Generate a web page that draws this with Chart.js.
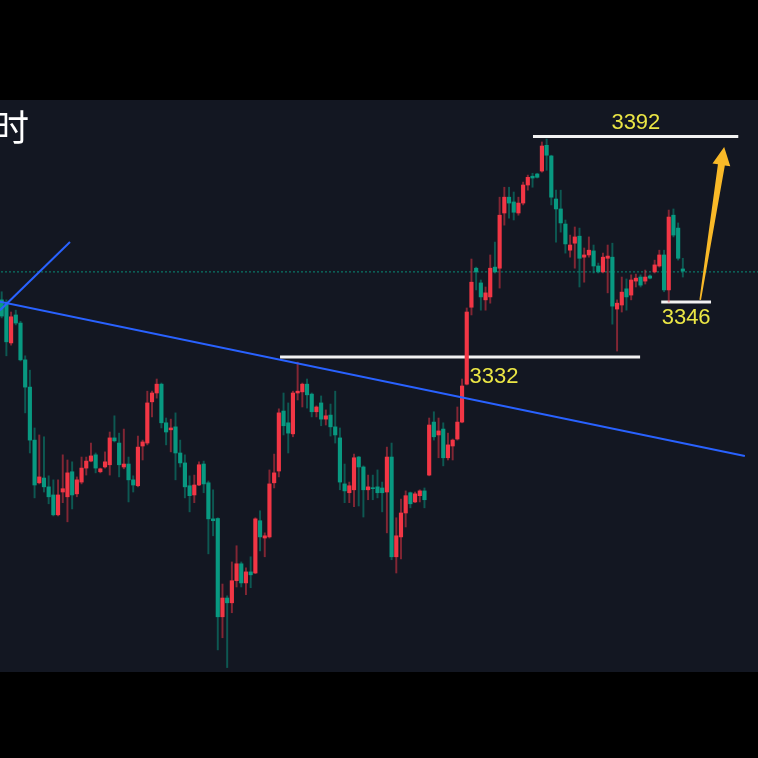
<!DOCTYPE html>
<html lang="zh">
<head>
    <meta charset="UTF-8">
    <title>K线图</title>
    <style>
        html, body {
            margin: 0;
            padding: 0;
            background: #000;
            width: 758px;
            height: 758px;
            overflow: hidden;
        }
        #chart-container {
            position: absolute;
            left: 0;
            top: 100px;
            width: 758px;
            height: 572px;
            background: #131722;
        }
    </style>
</head>
<body>
    <div id="chart-container">
        <canvas id="klineChart"></canvas>
    </div>
    <script src="https://cdn.jsdelivr.net/npm/chart.js"></script>
    <script>
        // K线数据 (开 / 高 / 低 / 收)
        const opens = [
            3347.5, 3346.4, 3335.8, 3343.4, 3341.2, 3331.2, 3323.8, 3309.4, 3297.8, 3299.1,
            3296.7, 3294.5, 3289.1, 3295.3, 3294.0, 3300.8, 3294.8, 3298.0, 3301.8, 3303.7,
            3305.4, 3300.8, 3302.1, 3302.7, 3310.0, 3308.6, 3302.1, 3302.9, 3298.6, 3297.0,
            3307.8, 3308.6, 3319.8, 3322.2, 3324.6, 3314.1, 3312.2, 3313.0, 3305.9, 3303.2,
            3297.0, 3294.5, 3297.2, 3302.9, 3297.8, 3288.0, 3288.1, 3261.4, 3266.5, 3265.2,
            3271.2, 3275.8, 3270.6, 3273.6, 3273.3, 3287.5, 3282.8, 3283.1, 3297.8, 3301.0,
            3317.3, 3314.1, 3311.1, 3322.2, 3322.5, 3324.6, 3321.9, 3317.1, 3319.5, 3315.1,
            3316.2, 3313.0, 3310.0, 3297.5, 3295.1, 3295.9, 3304.8, 3302.1, 3295.9, 3296.4,
            3296.7, 3296.4, 3295.3, 3304.8, 3277.7, 3283.1, 3289.6, 3295.1, 3292.6, 3294.3,
            3295.6, 3299.9, 3314.3, 3310.8, 3312.4, 3304.6, 3307.8, 3309.7, 3314.3, 3324.6,
            3345.5, 3356.1, 3352.1, 3347.5, 3348.3, 3356.4, 3356.1, 3371.1, 3375.4, 3374.1,
            3371.1, 3373.8, 3378.7, 3381.1, 3381.7, 3382.5, 3389.5, 3386.6, 3374.9, 3372.2,
            3368.1, 3361.0, 3362.9, 3364.8, 3359.1, 3359.7, 3360.8, 3356.7, 3355.1, 3358.8,
            3359.1, 3345.0, 3346.1, 3350.5, 3348.8, 3352.6, 3353.7, 3352.6, 3354.0, 3355.1,
            3356.7, 3359.7, 3350.2, 3370.5, 3367.0, 3355.9
        ];
        const highs = [
            3349.7, 3347.5, 3344.2, 3344.7, 3341.7, 3332.3, 3328.4, 3312.7, 3310.8, 3310.3,
            3299.7, 3298.6, 3298.6, 3305.4, 3304.0, 3303.5, 3299.4, 3304.8, 3304.8, 3308.6,
            3305.9, 3301.8, 3306.2, 3311.6, 3316.0, 3311.3, 3312.4, 3304.8, 3299.7, 3310.5,
            3309.4, 3322.7, 3322.7, 3326.0, 3324.9, 3315.4, 3315.1, 3316.8, 3309.4, 3305.4,
            3299.7, 3299.9, 3303.5, 3303.7, 3298.3, 3295.9, 3288.3, 3270.3, 3267.1, 3276.3,
            3280.7, 3276.3, 3274.7, 3277.7, 3288.3, 3290.2, 3284.2, 3301.3, 3305.6, 3317.9,
            3322.2, 3319.5, 3322.7, 3330.6, 3324.9, 3326.0, 3322.2, 3318.7, 3321.4, 3317.6,
            3319.2, 3322.7, 3312.7, 3302.9, 3298.0, 3305.6, 3305.0, 3302.4, 3299.9, 3299.9,
            3301.3, 3298.0, 3307.5, 3308.6, 3288.3, 3293.4, 3295.6, 3295.3, 3295.3, 3295.9,
            3296.4, 3315.4, 3317.1, 3315.4, 3314.1, 3311.3, 3309.7, 3318.4, 3326.0, 3345.3,
            3358.6, 3356.4, 3352.9, 3351.0, 3359.7, 3363.2, 3375.4, 3378.1, 3378.1, 3376.8,
            3375.4, 3379.5, 3381.4, 3381.9, 3381.9, 3390.4, 3391.2, 3386.8, 3377.3, 3377.3,
            3369.2, 3365.1, 3367.3, 3367.0, 3361.6, 3364.6, 3362.4, 3357.5, 3360.2, 3362.4,
            3362.9, 3347.5, 3353.7, 3353.2, 3354.3, 3354.5, 3354.3, 3355.6, 3354.3, 3358.3,
            3361.0, 3361.0, 3371.9, 3372.2, 3368.4, 3358.8
        ];
        const lows = [
            3342.6, 3332.3, 3335.2, 3340.7, 3330.9, 3316.8, 3305.9, 3293.7, 3297.5, 3295.3,
            3292.1, 3288.8, 3288.8, 3292.4, 3287.2, 3290.7, 3294.0, 3297.5, 3299.9, 3303.5,
            3300.5, 3300.5, 3301.8, 3299.9, 3308.9, 3299.4, 3301.6, 3292.6, 3295.3, 3296.7,
            3304.0, 3308.1, 3315.7, 3320.8, 3312.7, 3308.1, 3306.2, 3298.6, 3302.1, 3293.7,
            3289.9, 3292.4, 3297.0, 3295.1, 3278.5, 3283.4, 3252.4, 3255.7, 3247.6, 3262.5,
            3269.5, 3269.5, 3267.4, 3269.3, 3273.1, 3279.3, 3277.7, 3282.8, 3296.4, 3299.4,
            3310.8, 3305.9, 3310.3, 3320.3, 3318.4, 3318.1, 3315.7, 3315.7, 3313.3, 3313.5,
            3310.5, 3308.6, 3295.9, 3292.4, 3292.4, 3291.3, 3291.5, 3288.5, 3293.2, 3293.2,
            3293.7, 3289.9, 3284.2, 3276.9, 3273.3, 3277.1, 3285.8, 3291.0, 3292.4, 3292.6,
            3291.0, 3299.7, 3309.4, 3304.6, 3302.4, 3304.0, 3304.0, 3309.4, 3314.1, 3324.4,
            3343.4, 3350.2, 3344.7, 3344.7, 3346.6, 3354.8, 3350.7, 3367.8, 3369.7, 3369.2,
            3370.5, 3373.3, 3377.3, 3378.1, 3380.6, 3382.2, 3382.7, 3373.3, 3363.2, 3365.9,
            3360.2, 3359.1, 3356.1, 3351.0, 3352.3, 3359.1, 3354.8, 3354.8, 3354.8, 3349.4,
            3340.9, 3333.6, 3344.2, 3344.7, 3347.5, 3351.0, 3351.0, 3351.8, 3353.2, 3354.8,
            3356.4, 3349.7, 3346.9, 3364.6, 3358.3, 3353.7
        ];
        const closes = [
            3343.1, 3336.1, 3342.9, 3341.2, 3331.2, 3323.8, 3309.4, 3297.2, 3299.4, 3296.7,
            3294.0, 3289.1, 3294.5, 3296.2, 3300.5, 3294.5, 3298.6, 3301.8, 3303.7, 3305.1,
            3301.8, 3301.6, 3303.5, 3310.0, 3309.2, 3302.7, 3302.9, 3298.6, 3297.2, 3307.5,
            3308.9, 3319.5, 3322.2, 3324.6, 3314.1, 3311.6, 3312.7, 3305.9, 3303.2, 3296.7,
            3294.3, 3297.2, 3302.7, 3297.5, 3288.0, 3287.5, 3261.4, 3266.5, 3265.2, 3271.2,
            3275.8, 3270.6, 3273.6, 3272.8, 3288.0, 3283.1, 3283.4, 3297.5, 3300.5, 3316.8,
            3313.3, 3311.3, 3322.2, 3322.7, 3324.6, 3321.7, 3317.1, 3318.4, 3315.1, 3316.0,
            3313.0, 3310.8, 3298.0, 3295.6, 3297.0, 3304.6, 3302.1, 3295.9, 3296.7, 3296.2,
            3295.1, 3295.1, 3304.8, 3277.7, 3283.4, 3289.6, 3294.3, 3292.1, 3294.8, 3295.6,
            3293.2, 3313.5, 3310.3, 3311.9, 3304.6, 3308.1, 3309.4, 3314.3, 3324.1, 3344.2,
            3352.3, 3355.1, 3348.3, 3349.4, 3356.1, 3355.1, 3370.5, 3375.4, 3373.8, 3371.3,
            3373.8, 3378.7, 3380.8, 3380.6, 3380.8, 3389.3, 3386.8, 3375.4, 3372.2, 3368.4,
            3362.7, 3362.4, 3364.6, 3358.8, 3359.7, 3361.0, 3356.7, 3355.1, 3359.1, 3359.4,
            3345.8, 3346.6, 3349.6, 3348.3, 3352.9, 3353.4, 3351.5, 3353.7, 3353.4, 3357.0,
            3359.7, 3350.2, 3370.0, 3365.1, 3358.8, 3355.3
        ];

        // 画线 (K线序号, 价格)
        const trendLongX = [-0.36, 158.2];
        const trendLongY = [3347.0, 3305.1];
        const trendShortX = [-0.36, 14.54];
        const trendShortY = [3344.7, 3363.2];
        const levelPrices = [3391.9, 3332.0, 3346.9];
        const levelFrom = [113.1, 59.25, 140.4];
        const levelTo = [156.8, 135.9, 151.0];
        const levelLabels = ['3392', '3332', '3346'];
        const labelX = [135.0, 104.8, 145.7];
        const labelY = [3395.6, 3326.6, 3342.6];
        const arrowX = [148.7, 153.8];
        const arrowY = [3347.5, 3389.0];
        const lastPrice = 3355.1;
        const titleText = '时';

        const UP = '#f23645', DOWN = '#089981';
        const isUp = opens.map((o, i) => closes[i] >= o);

        const toPts = (xs, ys) => xs.map((x, i) => ({ x: x, y: ys[i] }));

        const datasets = [
            {
                label: 'body',
                data: opens.map((o, i) => ({ x: i, y: [o, closes[i]] })),
                backgroundColor: isUp.map(u => u ? UP : DOWN),
                barThickness: 3.5,
                minBarLength: 1,
                grouped: false,
                order: 1
            },
            {
                label: 'wick',
                data: lows.map((l, i) => ({ x: i, y: [l, highs[i]] })),
                backgroundColor: isUp.map(u => u ? 'rgba(242,54,69,0.5)' : 'rgba(8,153,129,0.5)'),
                barThickness: 1.3,
                grouped: false,
                order: 2
            },
            {
                type: 'line',
                data: toPts(trendLongX, trendLongY),
                borderColor: '#2962ff',
                borderWidth: 2,
                pointRadius: 0,
                order: 0
            },
            {
                type: 'line',
                data: toPts(trendShortX, trendShortY),
                borderColor: '#2962ff',
                borderWidth: 2,
                pointRadius: 0,
                order: 0
            },
            {
                type: 'line',
                data: [{ x: -1, y: lastPrice }, { x: 170, y: lastPrice }],
                borderColor: 'rgba(8,153,129,0.9)',
                borderWidth: 1,
                borderDash: [2, 2],
                pointRadius: 0,
                order: 4
            }
        ];
        levelPrices.forEach((p, k) => {
            datasets.push({
                type: 'line',
                data: [{ x: levelFrom[k], y: p }, { x: levelTo[k], y: p }],
                borderColor: '#f2f2f2',
                borderWidth: 3,
                pointRadius: 0,
                order: 3
            });
        });

        // 箭头、价位文字、标题
        const annotations = {
            id: 'annotations',
            afterDatasetsDraw(chart) {
                const c = chart.ctx;
                const xs = chart.scales.x, ys = chart.scales.y;

                const x0 = xs.getPixelForValue(arrowX[0]), y0 = ys.getPixelForValue(arrowY[0]);
                const x1 = xs.getPixelForValue(arrowX[1]), y1 = ys.getPixelForValue(arrowY[1]);
                const len = Math.hypot(x1 - x0, y1 - y0);
                const ux = (x1 - x0) / len, uy = (y1 - y0) / len;
                const nx = -uy, ny = ux;
                const headLen = 18, headW = 9, tailW = 0.8, neckW = 3.5;
                const bx = x1 - ux * headLen, by = y1 - uy * headLen;
                c.save();
                c.fillStyle = '#f9b928';
                c.beginPath();
                c.moveTo(x0 + nx * tailW, y0 + ny * tailW);
                c.lineTo(bx + nx * neckW, by + ny * neckW);
                c.lineTo(bx + nx * headW, by + ny * headW);
                c.lineTo(x1, y1);
                c.lineTo(bx - nx * headW, by - ny * headW);
                c.lineTo(bx - nx * neckW, by - ny * neckW);
                c.lineTo(x0 - nx * tailW, y0 - ny * tailW);
                c.closePath();
                c.fill();

                c.fillStyle = '#ebe645';
                c.font = '22px "Liberation Sans", Arial, sans-serif';
                c.textAlign = 'center';
                c.textBaseline = 'middle';
                levelLabels.forEach((t, k) => {
                    c.fillText(t, xs.getPixelForValue(labelX[k]), ys.getPixelForValue(labelY[k]));
                });

                c.fillStyle = '#ffffff';
                c.font = '36px "Noto Sans CJK SC", sans-serif';
                c.textAlign = 'left';
                c.fillText(titleText, -7, 27);
                c.restore();
            }
        };

        const ctx = document.getElementById('klineChart').getContext('2d');
        const chart = new Chart(ctx, {
            type: 'bar',
            data: { datasets: datasets },
            options: {
                responsive: true,
                maintainAspectRatio: false,
                animation: false,
                events: [],
                layout: { padding: 0 },
                plugins: {
                    legend: { display: false },
                    tooltip: { enabled: false }
                },
                scales: {
                    x: {
                        type: 'linear',
                        min: -0.36,
                        max: 161.0,
                        offset: false,
                        display: false
                    },
                    y: {
                        min: 3246.4,
                        max: 3401.8,
                        display: false
                    }
                }
            },
            plugins: [annotations]
        });
    </script>
</body>
</html>
